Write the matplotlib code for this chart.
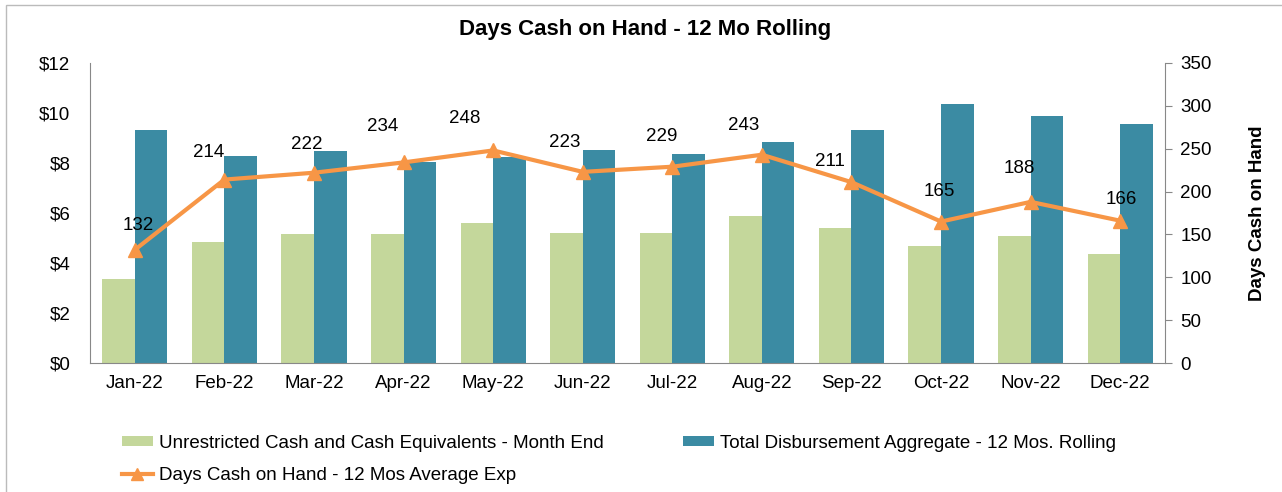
import numpy as np
import matplotlib.pyplot as plt
from matplotlib.patches import Rectangle
from matplotlib.lines import Line2D

plt.rcParams['font.family'] = ['Liberation Sans', 'DejaVu Sans']

months = ['Jan-22', 'Feb-22', 'Mar-22', 'Apr-22', 'May-22', 'Jun-22',
          'Jul-22', 'Aug-22', 'Sep-22', 'Oct-22', 'Nov-22', 'Dec-22']
unrestricted_cash = [3.37, 4.85, 5.16, 5.16, 5.61, 5.19, 5.21, 5.89, 5.40, 4.68, 5.07, 4.36]
total_disbursement = [9.32, 8.29, 8.48, 8.05, 8.23, 8.52, 8.35, 8.85, 9.32, 10.36, 9.87, 9.56]
days_cash = [132, 214, 222, 234, 248, 223, 229, 243, 211, 165, 188, 166]

# label offsets in pixels (dx, dy) relative to each point
label_off = [(3, 24), (-16, 27), (-7, 28), (-21, 36), (-28, 32), (-18, 29),
             (-11, 30), (-18, 29), (-22, 21), (-2, 30), (-11, 33), (1, 21)]

green = '#C4D79B'
teal = '#3B8BA3'
orange = '#F79646'

fig = plt.figure(figsize=(12.82, 4.92), dpi=100)
ax = fig.add_axes([90/1282, 1-363/492, 1075/1282, 300/492])
ax2 = ax.twinx()

x = np.arange(len(months))
w = 0.364
b1 = ax.bar(x - w/2, unrestricted_cash, w, color=green, zorder=2)
b2 = ax.bar(x + w/2, total_disbursement, w, color=teal, zorder=2)

ax.set_xlim(-0.5, len(months) - 0.5)
ax.set_ylim(0, 12)
ax.set_yticks(range(0, 13, 2))
ax.set_yticklabels(['$%d' % v for v in range(0, 13, 2)])
ax.set_xticks(x)
ax.set_xticklabels(months)
ax.tick_params(axis='both', labelsize=13.5, length=0, colors='black')
ax.tick_params(axis='y', pad=14)
ax.tick_params(axis='x', pad=9)

ln, = ax2.plot(x, days_cash, color=orange, lw=3, marker='^', ms=10, zorder=3)
ax2.set_ylim(0, 350)
ax2.set_yticks(range(0, 351, 50))
ax2.tick_params(axis='y', labelsize=13.5, length=5, color='#888888', pad=6)
ax2.set_ylabel('Days Cash on Hand', fontsize=13.5, fontweight='bold', labelpad=27)

for xi, v, (dx, dy) in zip(x, days_cash, label_off):
    ax2.annotate(str(v), (xi, v), xytext=(dx, dy), textcoords='offset pixels',
                 ha='center', va='center', fontsize=13.5)

for a in (ax, ax2):
    a.spines['top'].set_visible(False)
    for s in ('left', 'right', 'bottom'):
        a.spines[s].set_color('#888888')
ax.spines['right'].set_visible(False)
ax2.spines['left'].set_visible(False)
ax2.spines['bottom'].set_visible(False)

fig.text(645/1282, 1-30/492, 'Days Cash on Hand - 12 Mo Rolling',
         ha='center', va='center', fontsize=16, fontweight='bold')

h_line = Line2D([], [], color=orange, lw=3, marker='^', ms=8)
fig.legend([b1, h_line, b2],
           ['Unrestricted Cash and Cash Equivalents - Month End',
            'Days Cash on Hand - 12 Mos Average Exp',
            'Total Disbursement Aggregate - 12 Mos. Rolling'],
           ncol=2, loc='upper left', bbox_to_anchor=(105/1282, 1-418/492),
           frameon=False, fontsize=13.5, handlelength=1.65, handletextpad=0.35,
           handleheight=0.43, columnspacing=4.2, labelspacing=0.8)

fig.add_artist(Rectangle((6/1282, -0.1), 1.2, 1-5/492 + 0.1,
                         transform=fig.transFigure, fill=False,
                         edgecolor='#BBBBBB', lw=1))

fig.savefig('out.png', dpi=100)
